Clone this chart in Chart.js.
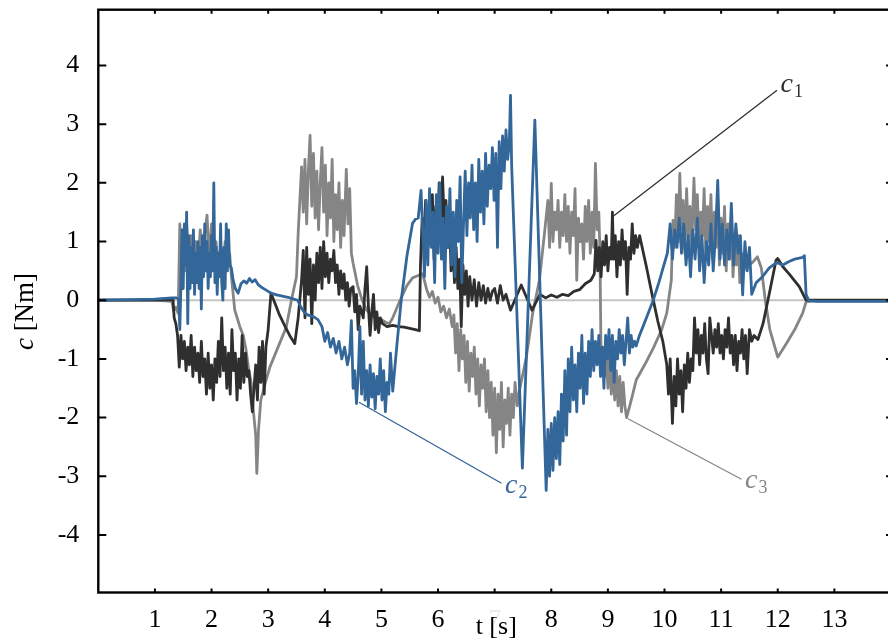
<!DOCTYPE html>
<html>
<head>
<meta charset="utf-8">
<script src="https://cdn.jsdelivr.net/npm/chart.js@4/dist/chart.umd.min.js"></script>
<style>
  html, body { margin: 0; padding: 0; background: #fff; overflow: hidden; width: 888px; height: 642px; }
  canvas { display: block; }
</style>
</head>
<body>
<canvas id="torque" width="900" height="642"></canvas>
<script>
// Joint torques c1, c2, c3 [Nm] over time t [s]

const t1 = [
  0, 1.0, 1.32,
  1.34, 1.37, 1.40, 1.43, 1.46, 1.49, 1.52, 1.55, 1.58, 1.61,
  1.64, 1.67, 1.70, 1.73, 1.76, 1.79, 1.82, 1.85, 1.88, 1.91,
  1.94, 1.97, 2.00, 2.03, 2.06, 2.09, 2.12, 2.15, 2.18, 2.21,
  2.24, 2.27, 2.30, 2.33, 2.36, 2.39, 2.42, 2.45, 2.48, 2.51,
  2.54, 2.57, 2.60, 2.63, 2.66, 2.69, 2.72, 2.75, 2.78, 2.81,
  2.84, 2.87, 2.90, 2.93, 2.96, 3.00,
  3.05, 3.12, 3.2, 3.3, 3.38, 3.47, 3.53, 3.59,
  3.62, 3.65, 3.68, 3.71, 3.74, 3.77, 3.80, 3.83, 3.86, 3.89,
  3.92, 3.95, 3.98, 4.01, 4.04, 4.07, 4.10, 4.13, 4.16, 4.19,
  4.22, 4.25, 4.28, 4.31, 4.34, 4.37, 4.40, 4.43, 4.46, 4.50,
  4.53, 4.56, 4.59, 4.62, 4.65, 4.68, 4.71, 4.74, 4.77, 4.80,
  4.83, 4.86, 4.89, 4.92, 4.95, 4.98, 5.02,
  5.1, 5.2, 5.3, 5.4, 5.5, 5.6, 5.67,
  5.69, 5.72, 5.75, 5.78, 5.81, 5.84, 5.87, 5.90, 5.93, 5.96,
  5.99, 6.02, 6.05, 6.08, 6.11, 6.14, 6.17, 6.20, 6.23, 6.26,
  6.29, 6.32, 6.35, 6.38, 6.41, 6.44, 6.47, 6.50, 6.53, 6.56,
  6.60, 6.64, 6.68, 6.72, 6.76, 6.80, 6.84, 6.88, 6.92, 6.96,
  7.00, 7.05, 7.10, 7.15, 7.20,
  7.28, 7.47, 7.66, 7.8, 7.9, 8.0, 8.1, 8.2, 8.3, 8.4, 8.5, 8.6, 8.7, 8.76,
  8.79, 8.82, 8.85, 8.88, 8.91, 8.94, 8.97, 9.00, 9.03, 9.06,
  9.08, 9.10, 9.13, 9.16, 9.19, 9.22, 9.25, 9.28, 9.31, 9.34,
  9.37, 9.40, 9.43, 9.46, 9.49, 9.52, 9.56,
  9.68, 9.78, 9.88, 9.97, 10.04,
  10.07, 10.10, 10.14, 10.17, 10.20, 10.23, 10.26, 10.29, 10.32, 10.35,
  10.38, 10.41, 10.44, 10.47, 10.50, 10.53, 10.56, 10.59, 10.62, 10.65,
  10.68, 10.71, 10.74, 10.77, 10.80, 10.83, 10.86, 10.89, 10.92, 10.95,
  10.98, 11.01, 11.04, 11.07, 11.10, 11.13, 11.16, 11.19, 11.22, 11.25,
  11.28, 11.31, 11.34, 11.37, 11.40, 11.43, 11.46, 11.50, 11.54, 11.58,
  11.65, 11.74, 11.85, 11.97, 12.0, 12.09, 12.2, 12.38, 12.5, 12.6, 14.0
];
const c1 = [
  0.0, 0.0, 0.01,
  -0.3, -0.4, -0.6, -1.14, -0.6, -1.0, -0.7, -1.2, -0.8, -1.1,
  -0.6, -1.3, -0.8, -1.2, -0.9, -1.4, -0.7, -1.3, -1.0, -1.6,
  -0.9, -1.5, -1.1, -1.7, -1.0, -1.4, -0.7, -1.3, -0.3, -1.2,
  -0.8, -1.5, -0.9, -1.6, -0.5, -1.2, -0.9, -1.7, -1.0, -1.5,
  -0.6, -1.4, -0.9, -1.3, -1.2, -1.6, -1.9, -1.5, -1.1, -1.7,
  -0.8, -1.4, -0.7, -1.6, -0.8, -0.5,
  0.12, -0.05, -0.25, -0.45, -0.6, -0.74, -0.3, 0.34,
  0.85, -0.3, 0.9, 0.1, 0.7, -0.4, 0.6, 0.0, 0.8, 0.3,
  0.9, 0.2, 1.0, 0.4, 0.8, 0.3, 0.7, 0.5, 0.85, 0.3,
  0.6, 0.1, 0.5, 0.2, 0.45, 0.0, 0.3, -0.1, 0.2, 0.23,
  -0.2, 0.1, -0.5, -0.1, -0.2, -0.3, 0.2, 0.57, -0.1, -0.6,
  -0.2, 0.1, -0.5, -0.2, -0.55, -0.3, -0.4,
  -0.45, -0.43, -0.45, -0.46, -0.48, -0.5, -0.52,
  0.6, 1.4, 0.9, 1.7, 0.8, 1.5, 1.0, 1.8, 0.7, 1.6,
  1.1, 2.0, 1.2, 2.1, 1.3, 1.7, 0.9, 1.5, 0.5, 1.1,
  0.3, 0.9, 0.2, 0.7, -0.45, 0.6, 0.1, 0.5, -0.1, 0.4,
  0.0, 0.35, -0.1, 0.3, 0.0, 0.25, -0.05, 0.2, 0.0, 0.15,
  0.2, -0.05, 0.25, 0.0, 0.1,
  -0.17, 0.26, -0.17, 0.1, 0.04, 0.09, 0.05, 0.1, 0.08, 0.15, 0.18, 0.28, 0.34, 0.45,
  1.02, 0.5, 0.9, 0.4, 1.0, 0.6, 1.1, 0.5, 0.9, 0.7,
  1.5, 0.7, 1.1, 0.4, 1.0, 0.6, 1.2, 0.7, 1.0, 0.1,
  0.9, 0.7, 1.3, 0.8, 1.1, 0.9, 1.1,
  0.57, 0.1, -0.35, -0.7, -1.1,
  -1.6, -1.0, -2.1, -1.3, -1.8, -1.0, -1.6, -1.2, -1.9, -1.1,
  -1.5, -0.9, -1.4, -1.0, -1.2, -0.3, -0.9, -0.5, -1.1, -0.6,
  -0.9, -0.4, -1.0, -1.25, -0.3, -0.6, -0.9, -0.5, -0.8, -0.4,
  -0.9, -0.6, -1.0, -0.5, -0.8, -0.3, -0.9, -0.6, -1.1, -0.6,
  -1.2, -0.7, -0.9, -0.5, -1.0, -0.6, -1.25, -0.5, -0.7, -0.6,
  -0.67, -0.4, 0.11, 0.68, 0.71, 0.57, 0.45, 0.23, 0.0, 0.0, 0.0
];

const t2 = [
  0, 0.6, 1.0, 1.3, 1.38, 1.42,
  1.44, 1.46, 1.48, 1.50, 1.52, 1.54, 1.56, 1.58, 1.60, 1.62,
  1.64, 1.66, 1.68, 1.70, 1.72, 1.74, 1.76, 1.78, 1.80, 1.82,
  1.84, 1.86, 1.88, 1.90, 1.92, 1.94, 1.96, 1.98, 2.00, 2.02,
  2.04, 2.06, 2.08, 2.10, 2.12, 2.14, 2.16, 2.18, 2.20, 2.22,
  2.24, 2.26, 2.28, 2.30, 2.32,
  2.35, 2.38, 2.42, 2.47, 2.52, 2.57, 2.62, 2.67, 2.72, 2.77,
  2.82, 2.88, 2.95, 3.05, 3.15, 3.25, 3.35, 3.45, 3.52,
  3.58, 3.65, 3.72, 3.8, 3.88, 3.95, 4.0, 4.05, 4.1, 4.15,
  4.2, 4.25, 4.3, 4.35, 4.4, 4.44,
  4.47, 4.50, 4.53, 4.56, 4.59, 4.62, 4.65, 4.68, 4.71, 4.74,
  4.77, 4.80, 4.83, 4.86, 4.89, 4.92, 4.95, 4.98, 5.01, 5.04,
  5.07, 5.10, 5.13, 5.16, 5.20,
  5.27, 5.35, 5.45, 5.55, 5.6, 5.65, 5.7,
  5.73, 5.76, 5.79, 5.82, 5.85, 5.88, 5.91, 5.94, 5.97, 6.00,
  6.03, 6.06, 6.09, 6.12, 6.15, 6.18, 6.21, 6.24, 6.27, 6.30,
  6.33, 6.36, 6.39, 6.42, 6.45, 6.48, 6.51, 6.54, 6.57, 6.60,
  6.63, 6.66, 6.69, 6.72, 6.75, 6.78, 6.81, 6.84, 6.87, 6.90,
  6.93, 6.96, 6.99, 7.02, 7.05, 7.08, 7.11, 7.14, 7.17, 7.20,
  7.23, 7.26, 7.28, 7.30,
  7.49, 7.71, 7.91,
  7.94, 7.97, 8.00, 8.03, 8.06, 8.09, 8.12, 8.15, 8.18, 8.21,
  8.24, 8.27, 8.30, 8.33, 8.36, 8.39, 8.42, 8.45, 8.48, 8.51,
  8.54, 8.57, 8.60, 8.63, 8.66, 8.69, 8.72, 8.75, 8.78, 8.81,
  8.84, 8.87, 8.90, 8.93, 8.96, 8.99, 9.02, 9.05, 9.08, 9.11,
  9.14, 9.17, 9.20, 9.23, 9.26, 9.29, 9.32, 9.35, 9.38, 9.41,
  9.44, 9.47, 9.50,
  9.55, 9.62, 9.7, 9.8, 9.9, 9.98, 10.05,
  10.10, 10.14, 10.18, 10.22, 10.26, 10.30, 10.34, 10.38, 10.42, 10.46,
  10.50, 10.54, 10.58, 10.62, 10.66, 10.70, 10.74, 10.78, 10.82, 10.86,
  10.90, 10.94, 10.98, 11.02, 11.06, 11.10, 11.14, 11.18, 11.22, 11.26,
  11.30, 11.34, 11.38, 11.42, 11.46, 11.50,
  11.54, 11.62, 11.72, 11.85, 11.98, 12.09, 12.2, 12.3, 12.44, 12.47,
  12.5, 12.55, 12.7, 13.5, 14.0
];
const c2 = [
  0.0, 0.01, 0.02, 0.04, 0.04, 0.02,
  -0.5, 0.3, 1.2, 0.2, 1.3, 0.6, 1.5, -0.4, 1.1, 0.2,
  0.9, 0.3, 1.2, 0.1, 0.8, 0.3, 1.0, 0.2, 0.9, -0.15,
  1.1, 0.4, 1.3, 0.5, 1.0, 0.2, 0.8, 0.4, 1.1, 0.5,
  2.0, 0.3, 0.9, 0.1, 0.8, 0.4, 1.3, 0.3, 0.0, 0.9,
  0.2, 1.3, 0.5, 1.2, 0.6,
  0.55, 0.35, 0.2, 0.12, 0.28, 0.33, 0.29, 0.37, 0.31, 0.35,
  0.27, 0.22, 0.18, 0.12, 0.09, 0.07, 0.05, 0.02, 0.0,
  -0.12, -0.22, -0.26, -0.28, -0.33, -0.45, -0.7, -0.55, -0.8, -0.65,
  -0.9, -0.7, -1.0, -0.8, -1.1, -0.9,
  -0.35, -1.5, -1.2, -1.76, -1.3, -0.45, -1.6, -0.7, -1.7, -1.2,
  -1.8, -1.1, -1.65, -1.25, -1.85, -1.3, -1.6, -1.0, -1.7, -1.2,
  -1.9, -1.4, -1.6, -0.9, -1.55,
  -0.8, 0.0, 0.75, 1.31, 1.38, 1.4, 1.87,
  1.2, 0.4, 1.7, 0.6, 1.9, 0.9, 1.5, 0.3, 1.8, 0.8,
  2.0, 0.7, 1.4, 0.2, 1.6, 0.9, 1.9, 0.6, 1.5, 0.4,
  1.7, 1.0, 2.1, 0.3, 1.3, 2.2, 1.1, 2.0, 1.4, 2.3,
  1.2, 2.0, 1.0, 2.4, 1.5, 2.2, 1.3, 2.5, 1.6, 2.3,
  1.9, 2.6, 1.7, 2.5, 0.9, 2.7, 1.9, 2.8, 2.2, 2.9,
  2.4, 2.7, 3.49, 2.3,
  -2.86, 3.07, -3.24,
  -2.2, -3.0, -2.1, -2.9, -2.0, -2.7, -1.9, -2.8, -1.6, -2.4,
  -1.2, -2.3, -1.0, -1.9, -0.8, -1.7, -1.1, -1.9, -0.9, -1.5,
  -0.6, -1.76, -0.9, -1.6, -0.7, -1.3, -0.5, -1.2, -0.7, -1.1,
  -0.6, -1.3, -0.8, -1.5, -0.6, -1.0, -0.5, -1.2, -0.6, -1.4,
  -0.7, -1.0, -0.5, -0.9, -0.6, -1.1, -0.7, -0.3, -0.9, -0.6,
  -0.8, -0.7, -0.78,
  -0.62, -0.45, -0.25, 0.0, 0.3, 0.57, 0.8,
  1.3, 0.7, 1.2, 0.9, 1.4, 0.8, 1.3, 0.6, 1.1, 0.4,
  1.2, 0.7, 1.4, 0.5, 1.1, 0.3, 1.0, 0.6, 1.3, 0.5,
  1.1, 2.04, 0.7, 1.3, 0.6, 1.2, 0.7, 1.65, 0.6, 1.3,
  0.8, 1.1, 0.09, 1.0, 0.5, 0.9,
  0.1, 0.3, 0.39, 0.55, 0.64, 0.6, 0.66, 0.7, 0.73, 0.76,
  0.1, -0.01, -0.02, -0.02, -0.02
];

const t3 = [
  0, 1.0, 1.3, 1.33, 1.37, 1.41,
  1.44, 1.47, 1.50, 1.53, 1.56, 1.60, 1.64, 1.68, 1.72, 1.76,
  1.80, 1.84, 1.88, 1.92, 1.96, 2.00, 2.04, 2.08, 2.12, 2.16,
  2.20, 2.24, 2.28, 2.32,
  2.35, 2.41, 2.5, 2.56, 2.61, 2.66, 2.7, 2.74, 2.78, 2.8,
  2.83, 2.87, 2.95, 3.03, 3.2, 3.32, 3.41, 3.5, 3.53, 3.59,
  3.62, 3.65, 3.68, 3.71, 3.74, 3.77, 3.80, 3.83, 3.86, 3.89,
  3.92, 3.95, 3.98, 4.01, 4.04, 4.07, 4.10, 4.13, 4.16, 4.19,
  4.22, 4.25, 4.28, 4.31, 4.34, 4.38, 4.41, 4.44, 4.47,
  4.5, 4.58, 4.66, 4.74, 4.86, 4.98, 5.08, 5.14, 5.2, 5.33,
  5.45, 5.55, 5.65, 5.73, 5.8,
  5.85, 5.9, 5.95, 6.0, 6.05, 6.1, 6.15, 6.2, 6.25, 6.28,
  6.31, 6.34, 6.37, 6.40, 6.43, 6.46, 6.49, 6.52, 6.55, 6.58,
  6.61, 6.64, 6.67, 6.70, 6.73, 6.76, 6.79, 6.82, 6.85, 6.88,
  6.91, 6.94, 6.97, 7.00, 7.03, 7.06, 7.09, 7.12, 7.15, 7.18,
  7.21, 7.24, 7.27, 7.30, 7.33, 7.36, 7.40, 7.44,
  7.56, 7.67, 7.79, 7.88,
  7.94, 7.97, 8.00, 8.03, 8.06, 8.09, 8.12, 8.15, 8.18, 8.21,
  8.24, 8.27, 8.30, 8.33, 8.36, 8.39, 8.42, 8.45, 8.48, 8.51,
  8.54, 8.57, 8.60, 8.63, 8.66, 8.69, 8.72, 8.75, 8.78, 8.81,
  8.84, 8.86,
  8.88, 8.91, 8.94, 8.97, 9.00, 9.03, 9.06, 9.09, 9.12, 9.15,
  9.18, 9.21, 9.24, 9.27, 9.30, 9.33,
  9.4, 9.5, 9.65, 9.8, 9.95, 10.04, 10.12,
  10.15, 10.18, 10.21, 10.24, 10.27, 10.30, 10.33, 10.36, 10.39, 10.42,
  10.45, 10.48, 10.52, 10.55, 10.58, 10.61, 10.64, 10.67, 10.70, 10.73,
  10.76, 10.79, 10.82, 10.85, 10.88, 10.91, 10.94, 10.97, 11.00, 11.03,
  11.06, 11.09, 11.12, 11.15, 11.18, 11.21, 11.24, 11.27, 11.30, 11.33,
  11.36, 11.40, 11.45, 11.50, 11.56, 11.64,
  11.71, 11.78, 11.86, 12.0, 12.08, 12.15, 12.3, 12.44, 12.5, 12.6, 14.0
];
const c3 = [
  0.0, 0.0, -0.02, -0.18, -0.12, -0.22,
  1.3, 0.6, 1.2, 0.5, 1.3, 0.7, 1.1, 0.6, 1.0, 0.5,
  1.2, 0.6, 1.1, 1.45, 0.7, 1.3, 0.6, 1.0, 0.5, 0.9,
  0.4, 1.0, 0.6, 0.8,
  0.42, -0.17, -0.45, -0.6, -0.85, -1.2, -1.4, -1.9, -2.3, -2.95,
  -2.2, -1.7, -1.41, -1.14, -0.74, -0.46, 0.0, 0.4, 1.14, 2.27,
  1.5, 2.4, 1.3, 2.2, 2.81, 1.6, 2.5, 1.4, 2.2, 1.2,
  2.0, 2.6, 1.5, 2.3, 1.1, 2.0, 1.4, 2.4, 1.0, 1.8,
  1.2, 2.0, 0.9, 1.7, 1.1, 2.23, 1.3, 1.9, 0.8,
  0.63, 0.25, 0.0, -0.17, -0.28, -0.32, -0.38, -0.4, -0.3, 0.0,
  0.25, 0.38, 0.42, 0.45, 0.18,
  0.05, 0.15, -0.05, 0.05, -0.2, -0.1, -0.3, -0.15, -0.45, -0.25,
  -0.9, -0.4, -1.2, -0.5, -1.0, -0.6, -1.4, -0.7, -1.55, -0.9,
  -1.3, -0.8, -1.6, -1.0, -1.8, -1.1, -1.5, -1.0, -1.9, -1.2,
  -2.0, -1.4, -2.3, -1.5, -2.6, -1.6, -2.2, -1.4, -2.5, -1.7,
  -2.1, -1.5, -2.3, -1.6, -2.0, -1.4, -1.8, -1.53,
  -0.97, -0.23, 0.34, 1.14,
  1.7, 0.9, 1.99, 1.0, 1.5, 1.2, 1.7, 0.9, 1.5, 1.1,
  1.8, 1.0, 1.6, 0.8, 1.5, 1.1, 1.9, 0.34, 1.4, 1.0,
  1.3, 0.7, 1.6, 1.0, 1.7, 0.8, 1.5, 0.9, 2.33, 1.2,
  1.5, 0.8,
  -1.07, -0.8, -1.3, -0.9, -1.5, -1.0, -1.6, -1.1, -1.7, -1.2,
  -1.8, -1.3, -1.9, -1.4, -1.8, -2.0,
  -1.75, -1.36, -1.1, -0.82, -0.5, -0.22, 0.34,
  1.36, 0.9, 1.8, 1.0, 2.16, 1.2, 1.7, 0.8, 1.9, 1.1,
  1.6, 0.9, 2.08, 1.2, 1.8, 0.9, 1.5, 1.1, 1.9, 0.8,
  1.6, 1.0, 1.8, 0.7, 1.5, 0.9, 1.7, 0.6, 1.4, 0.8,
  1.6, 0.5, 1.3, 0.7, 1.4, 0.4, 1.0, 0.6, 1.1, 0.3,
  0.8, 0.5, 0.7, 0.6, 0.65, 0.74,
  0.55, 0.0, -0.5, -0.97, -0.85, -0.74, -0.5, -0.22, -0.03, -0.01, -0.01
];

const xTicks = [1, 2, 3, 4, 5, 6, 7, 8, 9, 10, 11, 12, 13];
const yTicks = [-4, -3, -2, -1, 0, 1, 2, 3, 4];

const seriesNames = ['c1', 'c2', 'c3'];
const seriesColors = ['#2f2f2f', '#336699', '#858585'];

// Callout lines from a curve to its label, in data units (t, c)
const callouts = [
  { name: 'c', sub: '1', color: '#2f2f2f', from: [9.082, 1.423], to: [11.987, 3.578], at: [12.05, 3.544] },
  { name: 'c', sub: '2', color: '#336699', from: [4.604, -1.738], to: [7.121, -3.118], at: [7.183, -3.289] },
  { name: 'c', sub: '3', color: '#858585', from: [9.355, -2.019], to: [11.36, -3.05], at: [11.422, -3.203] }
];

const SERIF = "'Liberation Serif', 'Times New Roman', 'DejaVu Serif', serif";

function points(ts, vs) {
  return ts.map((t, i) => ({ x: t, y: vs[i] }));
}

const decorations = {
  id: 'decorations',
  beforeDatasetsDraw(chart) {
    const { ctx, chartArea: a, scales: { y } } = chart;
    const y0 = y.getPixelForValue(0);
    ctx.save();
    ctx.strokeStyle = '#c4c4c4';
    ctx.lineWidth = 2;
    ctx.beginPath();
    ctx.moveTo(a.left, y0);
    ctx.lineTo(a.right, y0);
    ctx.stroke();
    ctx.restore();
  },
  afterDatasetsDraw(chart) {
    const { ctx, chartArea: a, scales: { x, y } } = chart;
    ctx.save();

    // callouts
    callouts.forEach(c => {
      const x0 = x.getPixelForValue(c.from[0]), y0 = y.getPixelForValue(c.from[1]);
      const x1 = x.getPixelForValue(c.to[0]), y1 = y.getPixelForValue(c.to[1]);
      ctx.strokeStyle = c.color;
      ctx.lineWidth = 1.3;
      ctx.beginPath();
      ctx.moveTo(x0, y0);
      ctx.lineTo(x1, y1);
      ctx.stroke();
      const lx = x.getPixelForValue(c.at[0]), ly = y.getPixelForValue(c.at[1]);
      ctx.fillStyle = c.color;
      ctx.textBaseline = 'alphabetic';
      ctx.textAlign = 'left';
      ctx.font = 'italic 28px ' + SERIF;
      ctx.fillText(c.name, lx, ly);
      const w = ctx.measureText(c.name).width;
      ctx.font = '18px ' + SERIF;
      ctx.fillText(c.sub, lx + w + 1, ly + 5);
    });

    // frame
    ctx.strokeStyle = '#000';
    ctx.lineWidth = 2.4;
    ctx.strokeRect(a.left, a.top, a.right - a.left, a.bottom - a.top);

    // inward tick marks
    ctx.lineWidth = 2;
    ctx.beginPath();
    yTicks.forEach(v => {
      const py = y.getPixelForValue(v);
      ctx.moveTo(a.left, py); ctx.lineTo(a.left + 8, py);
      ctx.moveTo(a.right - 5, py); ctx.lineTo(a.right, py);
    });
    xTicks.forEach(v => {
      const px = x.getPixelForValue(v);
      ctx.moveTo(px, a.top); ctx.lineTo(px, a.top + 4);
      ctx.moveTo(px, a.bottom); ctx.lineTo(px, a.bottom - 4);
    });
    ctx.stroke();

    // axis titles
    ctx.fillStyle = '#000';
    ctx.textAlign = 'left';
    ctx.textBaseline = 'alphabetic';
    ctx.font = '26px ' + SERIF;
    ctx.fillText('t [s]', x.getPixelForValue(7) - 19, a.bottom + 41);

    ctx.translate(33, y.getPixelForValue(-0.85));
    ctx.rotate(-Math.PI / 2);
    ctx.font = 'italic 27px ' + SERIF;
    ctx.fillText('c', 0, 0);
    const cw = ctx.measureText('c').width;
    ctx.font = '27px ' + SERIF;
    ctx.fillText(' [Nm]', cw, 0);

    ctx.restore();
  }
};

const seriesData = [points(t1, c1), points(t2, c2), points(t3, c3)];

new Chart(document.getElementById('torque'), {
  type: 'line',
  data: {
    datasets: [1, 0, 2].map(i => ({
      label: seriesNames[i],
      data: seriesData[i],
      borderColor: seriesColors[i],
      backgroundColor: seriesColors[i],
      borderWidth: 2.8,
      pointRadius: 0,
      tension: 0,
      fill: false,
      borderJoinStyle: 'round'
    }))
  },
  options: {
    responsive: false,
    animation: false,
    devicePixelRatio: 1,
    events: [],
    layout: { padding: { top: 9.7, right: 9, left: 0, bottom: 0 } },
    plugins: { legend: { display: false }, tooltip: { enabled: false } },
    scales: {
      x: {
        type: 'linear',
        min: 0,
        max: 14,
        afterBuildTicks: s => { s.ticks = xTicks.map(v => ({ value: v })); },
        afterFit: s => { s.height = 49.5; s.paddingLeft = 0; s.paddingRight = 0; },
        grid: { display: false, drawTicks: false },
        border: { display: false },
        ticks: {
          padding: 12,
          maxRotation: 0,
          autoSkip: false,
          font: { family: SERIF, size: 26 },
          color: c => (c.tick && c.tick.value === 7) ? '#ebebeb' : '#000'
        }
      },
      y: {
        type: 'linear',
        min: -4.98,
        max: 4.95,
        afterBuildTicks: s => { s.ticks = yTicks.map(v => ({ value: v })); },
        afterFit: s => { s.width = 98.3; s.paddingTop = 0; s.paddingBottom = 0; },
        grid: { display: false, drawTicks: false },
        border: { display: false },
        ticks: {
          padding: 19,
          autoSkip: false,
          font: { family: SERIF, size: 26 },
          color: '#000'
        }
      }
    }
  },
  plugins: [decorations]
});
</script>
</body>
</html>
